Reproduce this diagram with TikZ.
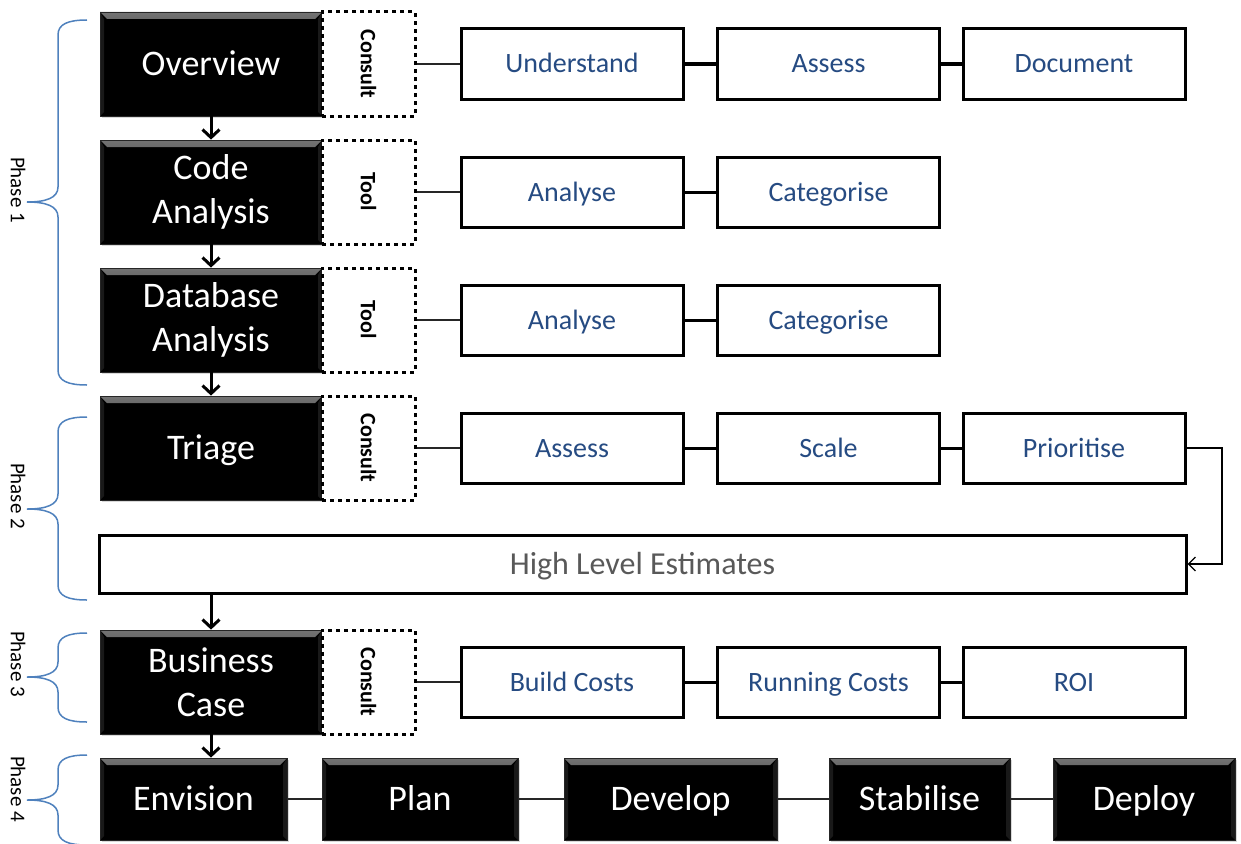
\documentclass[tikz,border=0pt]{standalone}
\usepackage{fontspec}
\usepackage{graphicx}
\setmainfont{Carlito}
\usetikzlibrary{arrows.meta,shadows}

\definecolor{taskblue}{RGB}{38,75,130}
\definecolor{bracecol}{RGB}{79,129,189}
\definecolor{estgray}{RGB}{89,89,89}

% curly brace of one phase: top, tip, bottom
\newcommand{\phasebrace}[3]{%
  \draw[phasebrace] (87,#1) .. controls (68,#1) and (58,#1+4) .. (58,#1+15)
    -- (58,#2-15) .. controls (58,#2-4) and (46,#2) .. (27,#2)
    .. controls (46,#2) and (58,#2+4) .. (58,#2+15)
    -- (58,#3-15) .. controls (58,#3-4) and (68,#3) .. (87,#3);}

\tikzset{
  singleline/.style={text height=27pt, text depth=4pt},
  stagebox/.style={fill=black, draw=black!85, line width=0.8pt, text=white,
    inner sep=0pt, align=center, font=\fontsize{36}{44}\selectfont,
    drop shadow={shadow xshift=1.5pt, shadow yshift=-2pt, opacity=0.3},
    path picture={
      \shade[top color=black!55, bottom color=black]
        (path picture bounding box.north west) -- (path picture bounding box.north east)
        -- ([shift={(-7pt,-7pt)}]path picture bounding box.north east)
        -- ([shift={(7pt,-7pt)}]path picture bounding box.north west) -- cycle;
      \fill[black!90]
        (path picture bounding box.north west) -- ([shift={(4pt,-7pt)}]path picture bounding box.north west)
        -- ([shift={(4pt,4pt)}]path picture bounding box.south west) -- (path picture bounding box.south west) -- cycle;
      \fill[black!90]
        (path picture bounding box.north east) -- ([shift={(-4pt,-7pt)}]path picture bounding box.north east)
        -- ([shift={(-4pt,4pt)}]path picture bounding box.south east) -- (path picture bounding box.south east) -- cycle;
    }},
  phasestage/.style={stagebox, minimum width=222pt, minimum height=104pt},
  methodbox/.style={draw, fill=white, line width=3pt, dash pattern=on 4pt off 4pt,
    minimum width=93pt, minimum height=104pt, inner sep=0pt,
    font=\fontsize{22}{26}\selectfont\bfseries},
  taskbox/.style={draw, fill=white, line width=3pt, minimum width=222pt,
    minimum height=70pt, inner sep=0pt, text=taskblue,
    text height=21pt, text depth=3pt, font=\fontsize{28}{34}\selectfont},
  phaselabel/.style={rotate=-90, font=\fontsize{21}{25}\selectfont},
  phasebrace/.style={draw=bracecol, line width=1.5pt},
  flowarrow/.style={-{Straight Barb[length=8pt,width=17pt]}, line width=3pt},
  methodlink/.style={line width=1.5pt, black!85},
  tasklink/.style={line width=3pt},
  feedback/.style={-{Straight Barb[length=7pt,width=14pt]}, line width=1.3pt},
}

\begin{document}
\begin{tikzpicture}[x=1pt,y=-1pt]
  \useasboundingbox (0,0) rectangle (1241,843);

  % phases
  \phasebrace{20}{202}{385}
  \phasebrace{417}{509}{600}
  \phasebrace{633}{677}{722}
  \phasebrace{755}{800}{845}
  \node[phaselabel] (ph1) at (18,190) {Phase 1};
  \node[phaselabel] (ph2) at (18,496) {Phase 2};
  \node[phaselabel] (ph3) at (18,664) {Phase 3};
  \node[phaselabel] (ph4) at (18,789) {Phase 4};

  % stages
  \node[phasestage, singleline] (overview) at (211,64) {Overview};
  \node[phasestage] (code) at (211,192) {Code\\Analysis};
  \node[phasestage] (dbase) at (211,320) {Database\\Analysis};
  \node[phasestage, singleline] (triage) at (211,448) {Triage};
  \node[phasestage] (business) at (211,682) {Business\\Case};

  % how each stage is done
  \node[methodbox] (overviewm) at (368.5,64) {\rotatebox{-90}{Consult}};
  \node[methodbox] (codem) at (368.5,192) {\rotatebox{-90}{Tool}};
  \node[methodbox] (dbasem) at (368.5,320) {\rotatebox{-90}{Tool}};
  \node[methodbox] (triagem) at (368.5,448) {\rotatebox{-90}{Consult}};
  \node[methodbox] (businessm) at (368.5,682) {\rotatebox{-90}{Consult}};

  % tasks
  \node[taskbox] (understand) at (572,64) {Understand};
  \node[taskbox] (assessA) at (828.5,64) {Assess};
  \node[taskbox] (document) at (1074,64) {Document};

  \node[taskbox] (analyseA) at (572,192) {Analyse};
  \node[taskbox] (categoriseA) at (828.5,192) {Categorise};

  \node[taskbox] (analyseB) at (572,320) {Analyse};
  \node[taskbox] (categoriseB) at (828.5,320) {Categorise};

  \node[taskbox] (assessB) at (572,448) {Assess};
  \node[taskbox] (scale) at (828.5,448) {Scale};
  \node[taskbox] (prioritise) at (1074,448) {Prioritise};

  \node[taskbox] (build) at (572,682) {Build Costs};
  \node[taskbox] (running) at (828.5,682) {Running Costs};
  \node[taskbox] (roi) at (1074,682) {ROI};

  \node[draw, fill=white, line width=3pt, minimum width=1087pt, minimum height=58pt,
    text height=24pt, text depth=3pt, text=estgray,
    font=\fontsize{32}{38}\selectfont] (estimates) at (642.5,564) {High Level Estimates};

  % delivery
  \node[stagebox, singleline, minimum width=187pt, minimum height=82pt] (envision) at (193.5,799) {Envision};
  \node[stagebox, singleline, minimum width=196pt, minimum height=82pt] (plan) at (420,799) {Plan};
  \node[stagebox, singleline, minimum width=213pt, minimum height=82pt] (develop) at (670.5,799) {Develop};
  \node[stagebox, singleline, minimum width=181pt, minimum height=82pt] (stabilise) at (919.5,799) {Stabilise};
  \node[stagebox, singleline, minimum width=182pt, minimum height=82pt] (deploy) at (1144,799) {Deploy};

  % links
  \draw[methodlink] (overviewm) -- (understand);
  \draw[methodlink] (codem) -- (analyseA);
  \draw[methodlink] (dbasem) -- (analyseB);
  \draw[methodlink] (triagem) -- (assessB);
  \draw[methodlink] (businessm) -- (build);

  \draw[tasklink] (understand) -- (assessA);
  \draw[tasklink] (assessA) -- (document);
  \draw[tasklink] (analyseA) -- (categoriseA);
  \draw[tasklink] (analyseB) -- (categoriseB);
  \draw[tasklink] (assessB) -- (scale);
  \draw[tasklink] (scale) -- (prioritise);
  \draw[tasklink] (build) -- (running);
  \draw[tasklink] (running) -- (roi);

  \foreach \a/\b in {envision/plan, plan/develop, develop/stabilise, stabilise/deploy}
    \draw[methodlink] (\a) -- (\b);

  \draw[flowarrow] (overview) -- (code);
  \draw[flowarrow] (code) -- (dbase);
  \draw[flowarrow] (dbase) -- (triage);
  \draw[flowarrow] (business.north |- estimates.south) -- (business);
  \draw[flowarrow] (business) -- (envision.north -| business.south);

  \coordinate (turn) at (1222,448);
  \draw[feedback] (prioritise.east) -- (turn) |- (estimates.east);
\end{tikzpicture}
\end{document}
